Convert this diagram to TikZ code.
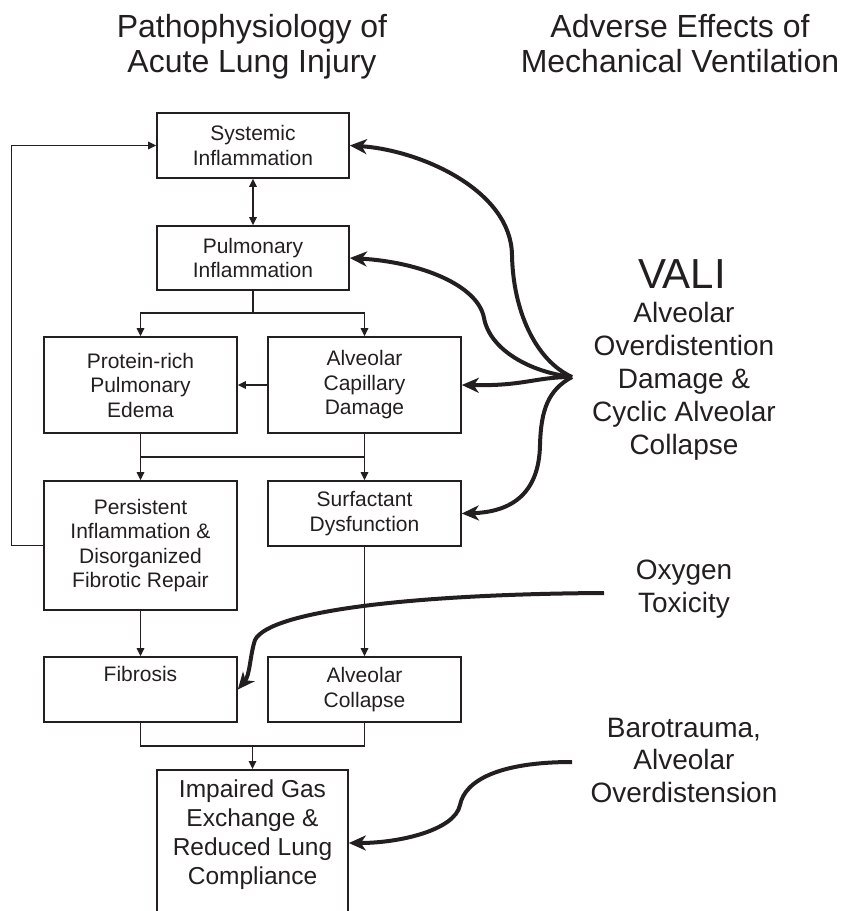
\documentclass[tikz,border=0pt]{standalone}
\usepackage{fontspec}
\setmainfont{Liberation Sans}
\usetikzlibrary{arrows.meta}
\definecolor{ink}{RGB}{35,31,32}
\begin{document}
\begin{tikzpicture}[x=1pt,y=-1pt,
  box/.style={draw=ink, line width=1.6pt, align=center, text=ink, inner sep=0pt,
    minimum width=193pt, font=\fontsize{21}{24.5}\selectfont},
  flow/.style={draw=ink, line width=1.3pt, -{Triangle[length=8pt,width=7.5pt]}},
  both/.style={draw=ink, line width=1.3pt, {Triangle[length=8pt,width=7.5pt]}-{Triangle[length=8pt,width=7.5pt]}},
  link/.style={draw=ink, line width=1.3pt},
  effect/.style={draw=ink, line width=4pt, -{Stealth[length=17pt,width=15pt,inset=5pt]}},
  heading/.style={text=ink, align=center, anchor=base, inner sep=0pt, font=\fontsize{32}{35}\selectfont},
  cause/.style={text=ink, align=center, anchor=base, inner sep=0pt, font=\fontsize{28}{32.5}\selectfont}]

\path[use as bounding box, clip] (0,0) rectangle (843,911);

% column headings (anchored at the baseline of their last line)
\node[heading] (h1) at (252,72) {Pathophysiology of\\Acute Lung Injury};
\node[heading] (h2) at (680,72) {Adverse Effects of\\Mechanical Ventilation};

% pathophysiology chain
\node[box, minimum width=192pt, minimum height=65pt] (sys) at (253,145.5) {Systemic\\Inflammation};
\node[box, minimum width=192pt, minimum height=64pt] (pul) at (253,258) {Pulmonary\\Inflammation};
\node[box, minimum height=96pt] (prot) at (140.5,385) {Protein-rich\\Pulmonary\\Edema};
\node[box, minimum height=96pt] (cap) at (364.5,385) {Alveolar\\Capillary\\Damage};
\node[box, minimum height=129pt] (pers) at (140.5,545.5) {Persistent\\Inflammation \&\\Disorganized\\Fibrotic Repair};
\node[box, minimum height=65pt] (surf) at (364.5,513.5) {Surfactant\\Dysfunction};
\node[box, minimum height=65pt] (fib) at (140.5,689.5) {Fibrosis\\\strut};
\node[box, minimum height=65pt] (col) at (364.5,689.5) {Alveolar\\Collapse};
\node[box, minimum width=191pt, minimum height=170pt, anchor=north] (imp) at (252.5,769) {};
\node[text=ink, align=center, inner sep=0pt, font=\fontsize{24.5}{29}\selectfont] (imptxt) at (252.5,835)
  {Impaired Gas\\Exchange \&\\Reduced Lung\\Compliance};

% junction points of the branching connectors
\coordinate (j1) at (253,313);
\coordinate (j2) at (253,457);
\coordinate (j3) at (252.5,746);

\draw[both] (sys) -- (pul);
\draw[link] (pul.south) -- (j1);
\draw[flow] (j1) -| (prot.north);
\draw[flow] (j1) -| (cap.north);
\draw[flow] (cap.west) -- (prot.east);
\draw[link] (prot.south) -- (prot.south |- j2) -- (cap.south |- j2) -- (cap.south);
\draw[flow] (prot.south |- j2) -- (pers.north);
\draw[flow] (cap.south |- j2) -- (surf.north);
\draw[flow] (pers.west) -- ++(-32,0) |- (sys.west);
\draw[flow] (pers) -- (fib);
\draw[flow] (surf) -- (col);
\draw[link] (fib.south) -- (fib.south |- j3) -- (col.south |- j3) -- (col.south);
\draw[flow] (j3) -- (imp.north);

% ventilator-induced injury
\node[text=ink, anchor=base, inner sep=0pt, font=\fontsize{42}{42}\selectfont] (vali) at (682,288) {VALI};
\node[cause, font=\fontsize{28}{33}\selectfont] (valitxt) at (684,454)
  {Alveolar\\Overdistention\\Damage \&\\Cyclic Alveolar\\Collapse};
\node[cause] (oxy) at (684,612) {Oxygen\\Toxicity};
\node[cause] (baro) at (684,802) {Barotrauma,\\Alveolar\\Overdistension};

\coordinate (vj) at (572,377);
\coordinate (ox) at (604,593);
\coordinate (bt) at (572,762);

\draw[effect] (vj) .. controls (535,360) and (513,310) .. (512,255)
  .. controls (511,190) and (420,150) .. (sys.east);
\draw[effect] (vj) .. controls (530,372) and (490,350) .. (484,318)
  .. controls (478,285) and (420,262) .. (pul.east);
\draw[effect] (vj) .. controls (535,377) and (525,386) .. (cap.east);
\draw[effect] (vj) .. controls (548,390) and (541,410) .. (540,445)
  .. controls (539,495) and (510,512) .. (surf.east);
\draw[effect] (ox) .. controls (420,594) and (270,610) .. (255,640)
  .. controls (250,655) and (250,675) .. (fib.east);
\draw[effect] (bt) .. controls (500,762) and (465,780) .. (460,805)
  .. controls (455,830) and (400,843) .. (imp.east |- 0,843);
\end{tikzpicture}
\end{document}
